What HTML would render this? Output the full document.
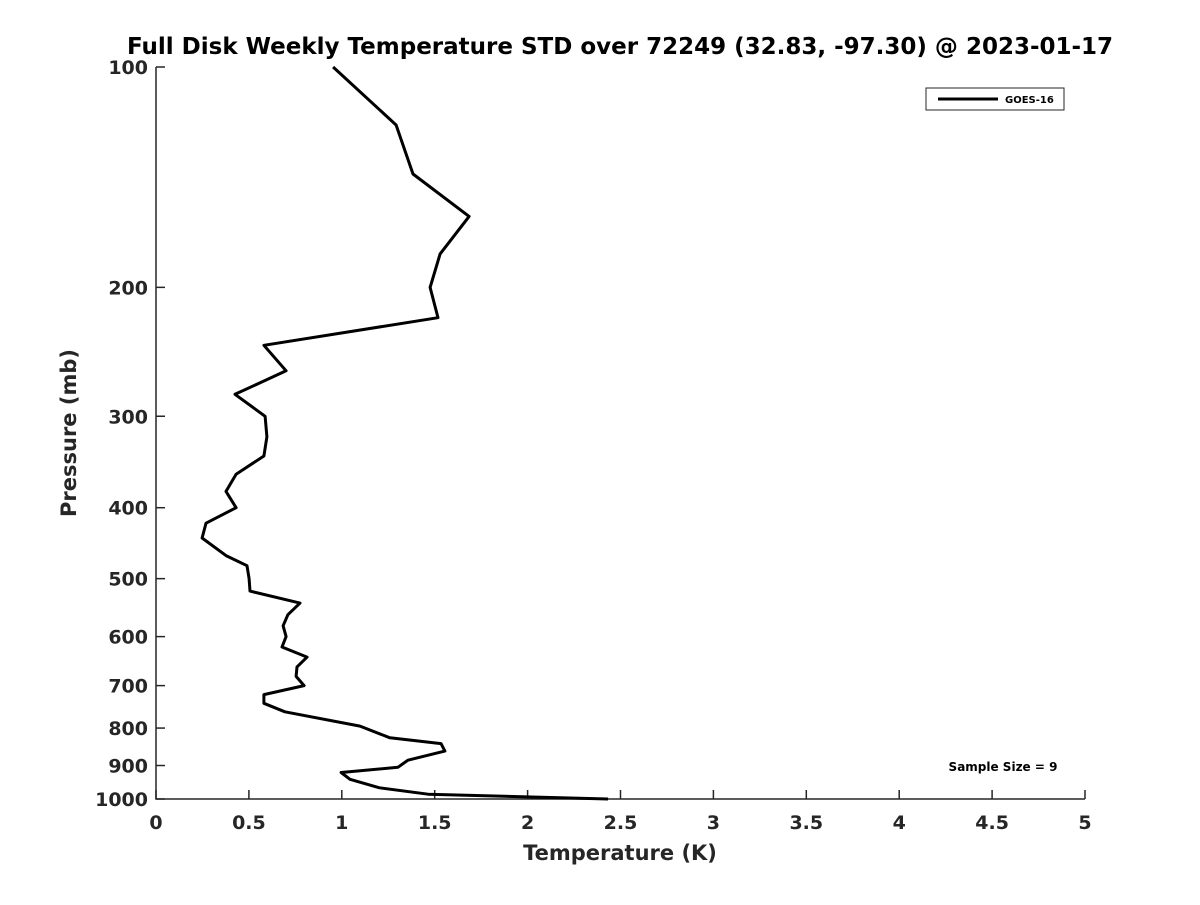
<!DOCTYPE html>
<html><head><meta charset="utf-8"><style>
body{margin:0;background:#fff}
svg text{font-family:"DejaVu Sans","Liberation Sans",sans-serif;font-weight:bold;fill:#262626}
</style></head><body>
<svg id="chart" width="1200" height="900">
<rect width="1200" height="900" fill="#fff"/>
<text x="620" y="54" font-size="23" text-anchor="middle" style="fill:#000">Full Disk Weekly Temperature STD over 72249 (32.83, -97.30) @ 2023-01-17</text>
<g id="axes"></g>
<path id="line" fill="none" stroke="#000" stroke-width="3" stroke-linejoin="round"/>
<text x="620" y="860" font-size="21" text-anchor="middle">Temperature (K)</text>
<text transform="translate(76,433) rotate(-90)" font-size="21" text-anchor="middle">Pressure (mb)</text>
<g>
<rect x="926" y="88" width="138" height="22" fill="#fff" stroke="#262626" stroke-width="1"/>
<line x1="938" y1="99" x2="998" y2="99" stroke="#000" stroke-width="3"/>
<text x="1005" y="103" font-size="10" style="fill:#000">GOES-16</text>
</g>
<text x="1003" y="771" font-size="12" text-anchor="middle" style="fill:#000">Sample Size = 9</text>
</svg>
<script>
const pressures=[100,120,140,160,180,200,220,240,260,280,300,320,340,360,380,400,420,440,465,480,500,520,540,560,580,600,620,640,660,680,700,720,740,760,795,825,840,860,885,905,920,940,965,985,1000];
const temps=[0.953,1.292,1.383,1.685,1.529,1.475,1.518,0.581,0.700,0.425,0.587,0.597,0.581,0.431,0.377,0.431,0.269,0.248,0.377,0.490,0.501,0.506,0.775,0.710,0.684,0.700,0.678,0.813,0.759,0.754,0.797,0.581,0.581,0.694,1.098,1.259,1.534,1.555,1.356,1.302,0.996,1.044,1.200,1.464,2.433];
const xTicks=[0,0.5,1,1.5,2,2.5,3,3.5,4,4.5,5];
const xTickLabels=["0","0.5","1","1.5","2","2.5","3","3.5","4","4.5","5"];
const yTicks=[100,200,300,400,500,600,700,800,900,1000];
const L=156,R=1085,T=67,B=799;
const xs=v=>L+(v-0)/(5-0)*(R-L);
const ys=p=>T+(Math.log10(p)-2)/(1)*(B-T);
const NS="http://www.w3.org/2000/svg";
const ax=document.getElementById('axes');
function mk(tag,attrs,txt){const e=document.createElementNS(NS,tag);for(const k in attrs)e.setAttribute(k,attrs[k]);if(txt!=null)e.textContent=txt;ax.appendChild(e);return e;}
let a=mk('path',{d:`M${L},${T}V${B}H${R}`,fill:'none',stroke:'#262626','stroke-width':1.5});


xTicks.forEach((v,i)=>{
 const x=xs(v);
 const t=mk('line',{x1:x,x2:x,y1:B,y2:B-9,stroke:'#262626','stroke-width':1.5});
 
 
 const l=mk('text',{x:x,y:B+30,'font-size':19,'text-anchor':'middle'},xTickLabels[i]);
 
 
});
yTicks.forEach(p=>{
 const y=ys(p);
 const t=mk('line',{x1:L,x2:L+9,y1:y,y2:y,stroke:'#262626','stroke-width':1.5});
 
 
 const l=mk('text',{x:L-8,y:y+7,'font-size':19,'text-anchor':'end'},String(p));
 
 
});
document.getElementById('line').setAttribute('d',pressures.map((p,i)=>(i?'L':'M')+xs(temps[i]).toFixed(1)+','+ys(p).toFixed(1)).join(''));
</script>
</body></html>
